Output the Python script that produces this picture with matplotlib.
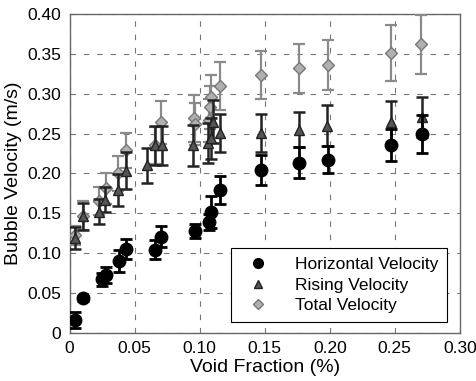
import numpy as np
import matplotlib
matplotlib.use('Agg')
import matplotlib.pyplot as plt
from matplotlib.lines import Line2D

# Horizontal velocity (black circles)
hx = [0.0043, 0.0105, 0.0246, 0.028, 0.038, 0.0433, 0.066, 0.070, 0.0964, 0.107, 0.1087, 0.1157,
      0.1474, 0.1766, 0.1987, 0.247, 0.2707]
hy = [0.016, 0.043, 0.067, 0.0725, 0.0897, 0.105, 0.104, 0.1206, 0.128, 0.1387, 0.151, 0.179,
      0.204, 0.2136, 0.217, 0.2354, 0.249]
he = [0.010, 0.003, 0.008, 0.010, 0.014, 0.012, 0.012, 0.013, 0.009, 0.010, 0.020, 0.018,
      0.019, 0.020, 0.017, 0.020, 0.024]

# Rising velocity (triangles)
rx = [0.004, 0.010, 0.0228, 0.027, 0.0374, 0.0433, 0.0592, 0.066, 0.071, 0.095, 0.1066, 0.1085,
      0.110, 0.1157, 0.1474, 0.1766, 0.198, 0.247, 0.2707]
ry = [0.1186, 0.146, 0.152, 0.167, 0.179, 0.2035, 0.21, 0.235, 0.235, 0.235, 0.238, 0.244,
      0.265, 0.2505, 0.251, 0.2546, 0.26, 0.264, 0.271]
re = [0.014, 0.017, 0.016, 0.016, 0.020, 0.023, 0.022, 0.024, 0.024, 0.026, 0.025, 0.026,
      0.027, 0.024, 0.024, 0.022, 0.026, 0.027, 0.025]

# Total velocity (gray diamonds)
tx = [0.004, 0.010, 0.0226, 0.028, 0.0374, 0.0433, 0.066, 0.070, 0.0958, 0.0965, 0.107, 0.108,
      0.109, 0.1157, 0.1474, 0.1764, 0.199, 0.247, 0.2702]
ty = [0.122, 0.147, 0.1654, 0.181, 0.200, 0.229, 0.235, 0.264, 0.269, 0.262, 0.267, 0.283,
      0.2965, 0.310, 0.3234, 0.332, 0.336, 0.351, 0.362]
te = [0.012, 0.018, 0.018, 0.019, 0.022, 0.022, 0.023, 0.027, 0.029, 0.026, 0.027, 0.027,
      0.027, 0.030, 0.030, 0.031, 0.031, 0.035, 0.037]

xticks = [0, 0.05, 0.10, 0.15, 0.20, 0.25, 0.30]
xlabels = ['0', '0.05', '0.10', '0.15', '0.20', '0.25', '0.30']
yticks = [0, 0.05, 0.10, 0.15, 0.20, 0.25, 0.30, 0.35, 0.40]
ylabels = ['0', '0.05', '0.10', '0.15', '0.20', '0.25', '0.30', '0.35', '0.40']
series_names = ['Horizontal Velocity', 'Rising Velocity', 'Total Velocity']

plt.rcParams['font.family'] = ['Liberation Sans', 'DejaVu Sans']

fig = plt.figure(figsize=(4.77, 3.81), dpi=100)
ax = fig.add_axes([0.146, 0.127, 0.818, 0.836])

ax.errorbar(tx, ty, yerr=te, fmt='D', ms=6, mec='#777777', mfc='#b0b0b0',
            ecolor='#8a8a8a', elinewidth=1.6, capsize=4.5, capthick=1.6, zorder=3)
ax.errorbar(rx, ry, yerr=re, fmt='^', ms=7, mec='#222222', mfc='#555555',
            ecolor='#222222', elinewidth=1.8, capsize=4.5, capthick=1.8, zorder=4)
ax.errorbar(hx, hy, yerr=he, fmt='o', color='black', ms=9,
            ecolor='black', elinewidth=2.0, capsize=4.5, capthick=2.0, zorder=5)

ax.set_xlim(0, 0.30)
ax.set_ylim(0, 0.40)
ax.set_xticks(xticks)
ax.set_xticklabels(xlabels)
ax.set_yticks(yticks)
ax.set_yticklabels(ylabels)
ax.tick_params(labelsize=12.5, length=0, pad=6)
ax.grid(True, linestyle=(0, (5, 7)), color='#777777', linewidth=0.8)
ax.set_axisbelow(True)
for s in ax.spines.values():
    s.set_color('#666666')
    s.set_linewidth(1.0)

ax.set_xlabel('Void Fraction (%)', fontsize=14, labelpad=2)
ax.set_ylabel('Bubble Velocity (m/s)', fontsize=14, labelpad=4)

handles = [
    Line2D([], [], ls='none', marker='o', color='black', ms=7),
    Line2D([], [], ls='none', marker='^', mfc='#555555', mec='#222222', ms=6),
    Line2D([], [], ls='none', marker='D', mfc='#b0b0b0', mec='#777777', ms=5),
]
leg = ax.legend(handles, series_names, loc='lower right', bbox_to_anchor=(0.967, 0.0345),
                borderaxespad=0, fontsize=12.5, frameon=True, fancybox=False,
                edgecolor='black', framealpha=1, handletextpad=1.0, handlelength=2.2,
                borderpad=0.5, labelspacing=0.3)
leg.get_frame().set_linewidth(0.8)

fig.savefig('out.png', dpi=100)
